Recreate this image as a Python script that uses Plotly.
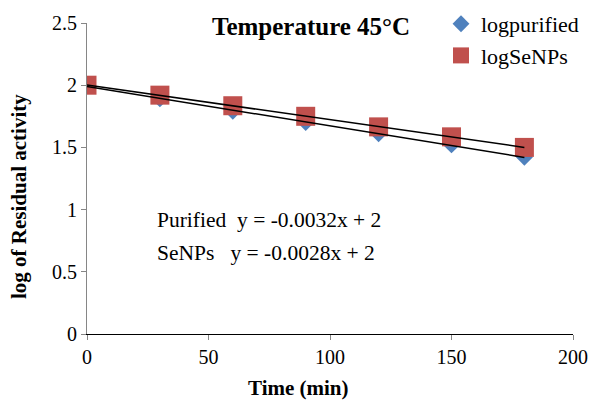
import numpy as np
import plotly.graph_objects as go

time_min = [0, 30, 60, 90, 120, 150, 180]
log_purified = [2.00, 1.89, 1.79, 1.70, 1.61, 1.52, 1.42]
log_senps = [2.00, 1.92, 1.835, 1.75, 1.665, 1.585, 1.50]
x_ticks = [0, 50, 100, 150, 200]
y_ticks = [0, 0.5, 1, 1.5, 2, 2.5]
y_tick_labels = ["0", "0.5", "1", "1.5", "2", "2.5"]

FONT = "Liberation Serif"

fig = go.Figure()

fig.add_trace(go.Scatter(x=time_min, y=log_purified, mode="markers", name="logpurified",
                         legendgroup="a",
                         marker=dict(symbol="diamond", size=13, color="#4F81BD")))
fig.add_trace(go.Scatter(x=time_min, y=log_senps, mode="markers", name="logSeNPs",
                         legendgroup="b",
                         marker=dict(symbol="square", size=19, color="#C0504D")))

for ys in (log_purified, log_senps):
    m, b = np.polyfit(time_min, ys, 1)
    xs = np.array([time_min[0], time_min[-1]])
    fig.add_trace(go.Scatter(x=xs, y=m * xs + b, mode="lines",
                             line=dict(color="black", width=1.5),
                             showlegend=False, hoverinfo="skip"))

W, H = 593, 400
X0, X1, Y0, Y1 = 87, 573, 23, 334  # plot area in pixels
L, T, R, B = X0, Y0, W - X1, H - Y1
PW, PH = X1 - X0, Y1 - Y0

def px(xw):
    return (xw - X0) / PW

def py(yw):
    return (Y1 - yw) / PH

fig.update_layout(
    width=W, height=H,
    margin=dict(l=L, r=R, t=T, b=B, autoexpand=False),
    paper_bgcolor="white", plot_bgcolor="white",
    font=dict(family=FONT, size=20, color="black"),
    showlegend=True,
    legend=dict(x=px(441), y=py(3), xanchor="left", yanchor="top",
                bgcolor="rgba(0,0,0,0)", font=dict(size=22, family=FONT),
                tracegroupgap=0, itemwidth=30),
    annotations=[
        dict(text="<b>Temperature 45°C</b>", x=px(311), y=py(27), xref="paper", yref="paper",
             xanchor="center", yanchor="middle", showarrow=False, font=dict(size=25, family=FONT)),
        dict(text="Purified  y = -0.0032x + 2", x=px(155), y=py(220), xref="paper", yref="paper",
             xanchor="left", yanchor="middle", showarrow=False, font=dict(size=21.5, family=FONT)),
        dict(text="SeNPs   y = -0.0028x + 2", x=px(155), y=py(253), xref="paper", yref="paper",
             xanchor="left", yanchor="middle", showarrow=False, font=dict(size=21.5, family=FONT)),
        dict(text="<b>log of Residual activity</b>", x=px(19), y=py(197), xref="paper", yref="paper",
             xanchor="center", yanchor="middle", textangle=-90, showarrow=False,
             font=dict(size=21, family=FONT)),
        dict(text="<b>Time (min)</b>", x=px(298), y=py(388), xref="paper", yref="paper",
             xanchor="center", yanchor="middle", showarrow=False,
             font=dict(size=21, family=FONT)),
    ],
)

fig.update_xaxes(range=[0, 200], tickvals=x_ticks, ticktext=[str(v) for v in x_ticks],
                 showgrid=False, zeroline=False, showline=True, linecolor="black", linewidth=1,
                 ticks="outside", ticklen=5, tickcolor="#868686", automargin=False,
                 tickfont=dict(size=20, family=FONT))
fig.update_yaxes(range=[0, 2.5], tickvals=y_ticks, ticktext=y_tick_labels,
                 showgrid=False, zeroline=False, showline=True, linecolor="#868686", linewidth=1,
                 ticks="outside", ticklen=5, tickcolor="#868686", automargin=False,
                 tickfont=dict(size=20, family=FONT))

fig.write_html("out.html", config={"displayModeBar": False},
               post_script="document.body.style.margin='0';")
